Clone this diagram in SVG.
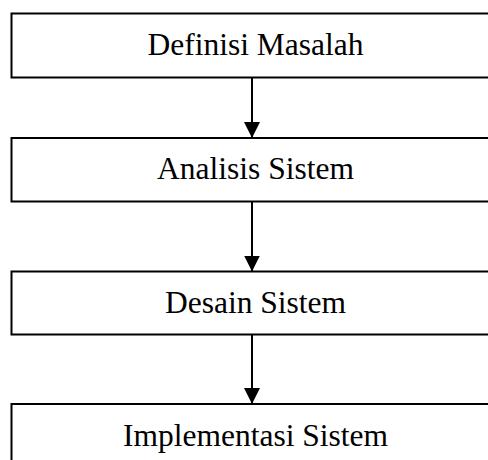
<svg xmlns="http://www.w3.org/2000/svg" width="488" height="460" viewBox="0 0 488 460">
<defs>
<style>
.box{fill:#fff;stroke:#000;stroke-width:2}
.lbl{font-family:"Liberation Serif","Times New Roman",serif;font-size:31.5px;fill:#000;text-anchor:middle}
.conn{stroke:#000;stroke-width:2;fill:none}
</style>
<marker id="arr" markerUnits="userSpaceOnUse" markerWidth="16" markerHeight="16" refX="16" refY="8" orient="auto" viewBox="0 0 16 16">
<path d="M0,0 L16,8 L0,16 Z" fill="#000"/>
</marker>
</defs>
<rect width="488" height="460" fill="#fff"/>
<g id="connectors">
<line class="conn" x1="252" y1="77.5" x2="252" y2="138" marker-end="url(#arr)"/>
<line class="conn" x1="252" y1="201.5" x2="252" y2="271.5" marker-end="url(#arr)"/>
<line class="conn" x1="252" y1="334.5" x2="252" y2="404" marker-end="url(#arr)"/>
</g>
<g id="definisi-masalah">
<rect class="box" x="11.5" y="13.5" width="490" height="64"/>
<text class="lbl" x="255.5" y="55">Definisi Masalah</text>
</g>
<g id="analisis-sistem">
<rect class="box" x="11.5" y="138" width="490" height="63.5"/>
<text class="lbl" x="255.5" y="179">Analisis Sistem</text>
</g>
<g id="desain-sistem">
<rect class="box" x="11.5" y="271.5" width="490" height="63"/>
<text class="lbl" x="255.5" y="312.5">Desain Sistem</text>
</g>
<g id="implementasi-sistem">
<rect class="box" x="11.5" y="404" width="490" height="64"/>
<text class="lbl" x="255.5" y="446">Implementasi Sistem</text>
</g>
</svg>
